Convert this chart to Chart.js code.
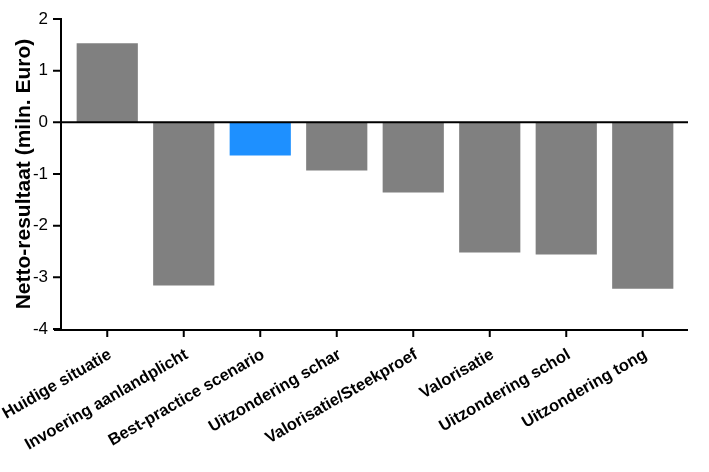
<!DOCTYPE html>
<html>
<head>
<meta charset="utf-8">
<script src="https://cdn.jsdelivr.net/npm/chart.js@4.4.0/dist/chart.umd.min.js"></script>
<style>
  html, body { margin: 0; padding: 0; background: #fff; }
  #wrap { width: 709px; height: 472px; }
</style>
</head>
<body>
<div id="wrap"><canvas id="chart"></canvas></div>
<script>
// data
const categories = [
  'Huidige situatie',
  'Invoering aanlandplicht',
  'Best-practice scenario',
  'Uitzondering schar',
  'Valorisatie/Steekproef',
  'Valorisatie',
  'Uitzondering schol',
  'Uitzondering tong'
];
const values = [1.53, -3.16, -0.64, -0.93, -1.36, -2.52, -2.56, -3.22];
const yTicks = [2, 1, 0, -1, -2, -3, -4];
const highlighted = 'Best-practice scenario';

const FONT = "'Liberation Sans', Arial, sans-serif";

// Prism-style axes: y axis pulled a little left of the first bar
const axesPlugin = {
  id: 'prismAxes',
  afterDatasetsDraw(chart) {
    const { ctx, chartArea, scales: { x, y } } = chart;
    const axisX = chartArea.left - 8;
    const bottom = y.getPixelForValue(yTicks[yTicks.length - 1]);
    const zero = y.getPixelForValue(0);
    ctx.save();
    ctx.strokeStyle = '#000';
    ctx.lineWidth = 2;
    ctx.beginPath();
    ctx.moveTo(axisX, y.getPixelForValue(yTicks[0]) - 1);
    ctx.lineTo(axisX, bottom);
    yTicks.forEach(v => {
      const py = y.getPixelForValue(v);
      ctx.moveTo(axisX - 8, py);
      ctx.lineTo(axisX, py);
    });
    ctx.moveTo(chartArea.left - 15, bottom + 1);
    ctx.lineTo(chartArea.right + 7, bottom + 1);
    categories.forEach((c, i) => {
      const px = x.getPixelForValue(i);
      ctx.moveTo(px, bottom + 1);
      ctx.lineTo(px, bottom + 8);
    });
    ctx.moveTo(axisX, zero);
    ctx.lineTo(chartArea.right + 7, zero);
    ctx.stroke();
    ctx.restore();
  }
};

new Chart(document.getElementById('chart'), {
  type: 'bar',
  data: {
    labels: categories,
    datasets: [{
      data: values,
      backgroundColor: categories.map(c => c === highlighted ? '#1e90ff' : '#808080'),
      borderWidth: 0,
      barPercentage: 0.8,
      categoryPercentage: 1
    }]
  },
  options: {
    responsive: true,
    maintainAspectRatio: false,
    animation: false,
    layout: { padding: { top: 19, right: 28, left: 0, bottom: 0 } },
    plugins: {
      legend: { display: false },
      tooltip: { enabled: false }
    },
    scales: {
      x: {
        offset: true,
        grid: { display: false },
        border: { display: false },
        ticks: {
          autoSkip: false,
          minRotation: 30,
          maxRotation: 30,
          padding: 8,
          labelOffset: 3,
          color: '#000',
          font: { family: FONT, size: 16.5, weight: 'bold' }
        },
        afterFit(scale) {
          scale.height = 143;
          scale.paddingLeft = 0;
          scale.paddingRight = 0;
        }
      },
      y: {
        min: -4,
        max: 2,
        grid: { display: false },
        border: { display: false },
        ticks: {
          stepSize: 1,
          padding: 13,
          color: '#000',
          font: { family: FONT, size: 17 }
        },
        title: {
          display: true,
          text: 'Netto-resultaat (miln. Euro)',
          color: '#000',
          padding: { top: 12, bottom: 0 },
          font: { family: FONT, size: 21, weight: 'bold' }
        },
        afterFit(scale) {
          scale.width = 69;
          scale.paddingTop = 0;
          scale.paddingBottom = 0;
        }
      }
    }
  },
  plugins: [axesPlugin]
});
</script>
</body>
</html>
